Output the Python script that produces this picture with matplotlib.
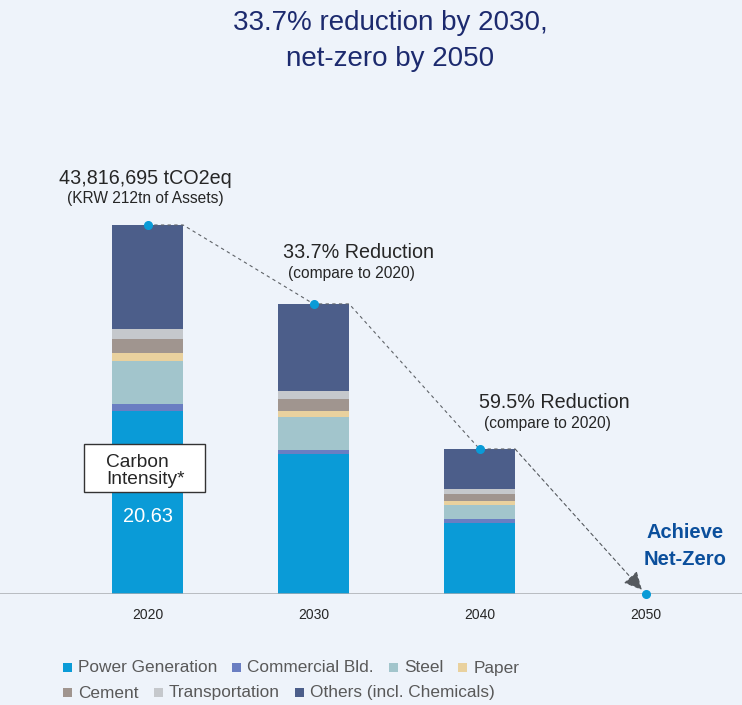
import matplotlib
import matplotlib.pyplot as plt
from matplotlib.patches import Rectangle
import numpy as np

matplotlib.use("Agg")
plt.rcParams["font.family"] = ["Liberation Sans", "DejaVu Sans"]

# emissions by sector, MtCO2eq
years = ["2020", "2030", "2040", "2050"]
sectors = ["Power Generation", "Commercial Bld.", "Steel", "Paper",
           "Cement", "Transportation", "Others (incl. Chemicals)"]
power = [21.73, 16.63, 8.43, 0]
commercial = [0.83, 0.48, 0.48, 0]
steel = [5.11, 3.92, 1.66, 0]
paper = [0.95, 0.71, 0.48, 0]
cement = [1.66, 1.43, 0.83, 0]
transport = [1.19, 0.95, 0.59, 0]
others = [12.35, 10.33, 4.75, 0]
colors = ["#0A9BD7", "#6A7EC2", "#A2C5CC", "#E9D19E", "#A0958F", "#C5C8CC", "#4C5E8A"]

reduction_labels = [("43,816,695 tCO2eq", "(KRW 212tn of Assets)"),
                    ("33.7% Reduction", "(compare to 2020)"),
                    ("59.5% Reduction", "(compare to 2020)")]
intensity = "20.63"

bg = "#EEF3FA"
W, H = 742, 705
fig = plt.figure(figsize=(W / 100, H / 100), dpi=100, facecolor=bg)
ax = fig.add_axes([0, 111 / H, 1, 494 / H])
ax.set_facecolor(bg)

series = [power, commercial, steel, paper, cement, transport, others]
x = np.arange(len(years))
bw = 0.428
bottom = np.zeros(len(years))
for vals, c in zip(series, colors):
    ax.bar(x, vals, bw, bottom=bottom, color=c, zorder=2)
    bottom += np.array(vals)
totals = bottom

k = 43.82 / 369  # value per pixel
ax.set_xlim(-0.889, 3.581)
ax.set_ylim(0, k * 494)
ax.axhline(0, color="#A8ACB0", lw=1.8, zorder=3)
for s in ax.spines.values():
    s.set_visible(False)
ax.set_yticks([])
ax.set_xticks(x)
ax.set_xticklabels(years, fontsize=10, color="#262626")
ax.tick_params(axis="x", length=0, pad=10)

# dashed trend path
hw = bw / 2
px, py = [], []
for i in range(3):
    px += [x[i], x[i] + hw]
    py += [totals[i], totals[i]]
ax.plot(px, py, color="#5F6368", lw=0.8, ls=(0, (3, 3)), zorder=4)
ax.annotate("", xy=(x[3], 0), xytext=(x[2] + hw, totals[2]),
            arrowprops=dict(arrowstyle="-|>,head_length=1.1,head_width=0.55",
                            color="#55595E", lw=0.8, ls=(0, (3, 3)),
                            shrinkA=0, shrinkB=4), zorder=4)
ax.plot(x[:3], totals[:3], "o", color="#0A9BD7", ms=5.5, zorder=5)
ax.plot([x[3]], [0], "o", color="#0A9BD7", ms=5.5, zorder=5, clip_on=False)

# labels above bars
offs = [((-2, 47), (-2, 26)), ((45, 51), (38, 30)), ((75, 46), (68, 25))]
for i, ((l1, l2), (o1, o2)) in enumerate(zip(reduction_labels, offs)):
    ax.annotate(l1, xy=(x[i], totals[i]), xytext=o1, textcoords="offset pixels",
                ha="center", va="center", fontsize=14.2, color="#262626")
    ax.annotate(l2, xy=(x[i], totals[i]), xytext=o2, textcoords="offset pixels",
                ha="center", va="center", fontsize=11.2, color="#262626")

ax.annotate("Achieve\nNet-Zero", xy=(x[3], 0), xytext=(40, 48), textcoords="offset pixels",
            ha="center", va="center", fontsize=14.5, fontweight="bold",
            color="#0B4F9C", linespacing=1.55)

# carbon intensity box
ax.add_patch(Rectangle((-0.383, 12.11), 0.729, 48 * k, facecolor="white",
                       edgecolor="#333333", lw=1, zorder=6))
ax.text(-0.25, 14.6, "Carbon\nIntensity*", ha="left", va="center",
        fontsize=13.8, color="#262626", linespacing=1.05, zorder=7)
ax.text(x[0], 77 * k, intensity, ha="center", va="center", fontsize=14.4,
        color="white", zorder=7)

# title
fig.text(390 / W, 1 - 41 / H, "33.7% reduction by 2030,\nnet-zero by 2050",
         ha="center", va="center", fontsize=20, color="#1C2A6E", linespacing=1.45)

# legend, flowed in two rows
fig.canvas.draw()
rend = fig.canvas.get_renderer()
rows = [(668, sectors[:4], colors[:4]), (693, sectors[4:], colors[4:])]
sq = 9
for yc, names, cols in rows:
    cx = 63
    for name, c in zip(names, cols):
        fig.patches.append(Rectangle((cx / W, 1 - (yc + sq / 2 - 1) / H), sq / W, sq / H,
                                     transform=fig.transFigure, facecolor=c, edgecolor="none"))
        t = fig.text((cx + 15) / W, 1 - yc / H, name, ha="left", va="center",
                     fontsize=12.4, color="#595959")
        ext = t.get_window_extent(rend)
        cx = ext.x1 + 15

fig.savefig("out.png", dpi=100, facecolor=bg)
